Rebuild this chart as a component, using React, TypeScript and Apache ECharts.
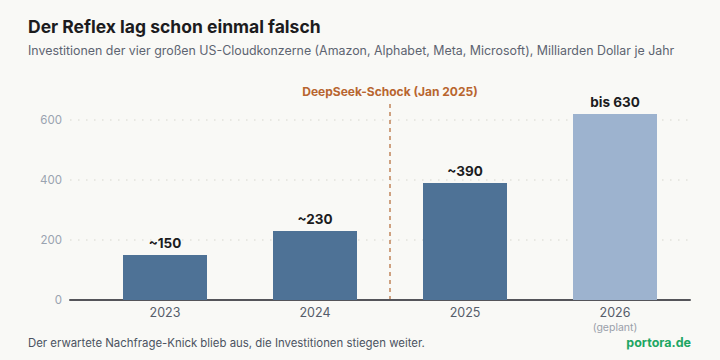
import React, { useEffect, useRef } from "react";
import * as echarts from "echarts";

const categories = ["2023", "2024", "2025", "2026"];
const values = [150, 230, 390, 620];
const valueLabels = ["~150", "~230", "~390", "bis 630"];
const barColors = ["#4e7296", "#4e7296", "#4e7296", "#9db3cf"];
const yTicks = [0, 200, 400, 600];

const FONT = "Inter, 'Noto Sans', sans-serif";

export default function App() {
  const ref = useRef<HTMLDivElement>(null);
  useEffect(() => {
    if (!ref.current) return;
    const chart = echarts.init(ref.current, undefined, { renderer: "svg" });
    chart.setOption({
      animation: false,
      backgroundColor: "#f9f9f6",
      textStyle: { fontFamily: FONT },
      title: [
        {
          text: "Der Reflex lag schon einmal falsch",
          left: 23,
          top: 12,
          textStyle: { fontFamily: FONT, fontSize: 17.5, fontWeight: "bold", color: "#1c1c1e" },
        },
        {
          text: "Investitionen der vier großen US-Cloudkonzerne (Amazon, Alphabet, Meta, Microsoft), Milliarden Dollar je Jahr",
          left: 23,
          top: 39,
          textStyle: { fontFamily: FONT, fontSize: 12.4, fontWeight: "normal", color: "#5d6471" },
        },
        {
          text: "Der erwartete Nachfrage-Knick blieb aus, die Investitionen stiegen weiter.",
          left: 23,
          top: 332,
          textStyle: { fontFamily: FONT, fontSize: 11.4, fontWeight: "normal", color: "#4b5361" },
        },
        {
          text: "portora.de",
          right: 24,
          top: 331,
          textStyle: { fontFamily: FONT, fontSize: 12.5, fontWeight: "bold", color: "#1ea663" },
        },
      ],
      grid: [
        { left: 70, right: 30, top: 90, bottom: 60 },
        { left: 90, right: 30, top: 90, bottom: 60 },
      ],
      xAxis: [
        {
          type: "value",
          gridIndex: 0,
          min: 0,
          max: 1,
          axisLine: { show: true, onZero: false, lineStyle: { color: "#55555a", width: 2 } },
          axisTick: { show: false },
          axisLabel: { show: false },
          splitLine: { show: false },
        },
        {
          type: "category",
          gridIndex: 1,
          data: categories,
          axisLine: { show: false },
          axisTick: { show: false },
          axisLabel: {
            margin: 5,
            formatter: (v: string) => (v === "2026" ? "{a|" + v + "}\n{b|(geplant)}" : "{a|" + v + "}"),
            rich: {
              a: { fontFamily: FONT, fontSize: 12.5, color: "#555d6a", lineHeight: 15 },
              b: { fontFamily: FONT, fontSize: 10.5, color: "#9aa0aa", lineHeight: 15 },
            },
          },
        },
      ],
      yAxis: [
        {
          type: "value",
          gridIndex: 0,
          min: 0,
          max: 700,
          interval: 200,
          axisLine: { show: false },
          axisTick: { show: false },
          axisLabel: {
            color: "#9aa3b0",
            fontSize: 11.5,
            margin: 8,
            showMaxLabel: false,
            formatter: (v: number) => (yTicks.includes(v) ? String(v) : ""),
          },
          splitLine: {
            show: true,
            showMinLine: false,
            showMaxLine: false,
            lineStyle: { color: "#e2e2dc", width: 1.5, type: [1.5, 6.5] },
          },
        },
        {
          type: "value",
          gridIndex: 1,
          min: 0,
          max: 700,
          show: false,
          splitLine: { show: false },
        },
      ],
      series: [
        {
          type: "bar",
          xAxisIndex: 1,
          yAxisIndex: 1,
          barWidth: 84,
          data: values.map((v, i) => ({ value: v, itemStyle: { color: barColors[i] } })),
          label: {
            show: true,
            position: "top",
            distance: 5,
            fontFamily: FONT,
            fontSize: 13.5,
            fontWeight: "bold",
            color: "#1c1c1e",
            formatter: (p: any) => valueLabels[p.dataIndex],
          },
        },
      ],
      graphic: [
        {
          type: "line",
          shape: { x1: 390, y1: 104, x2: 390, y2: 299 },
          style: { stroke: "#c0845a", lineWidth: 1.5, lineDash: [4, 4] },
          z: 10,
        },
        {
          type: "text",
          x: 390,
          y: 91,
          style: {
            text: "DeepSeek-Schock (Jan 2025)",
            fill: "#b8652f",
            font: "bold 12px " + FONT,
            textAlign: "center",
            textVerticalAlign: "middle",
          },
        },
      ],
    });
    return () => chart.dispose();
  }, []);
  return <div ref={ref} style={{ position: "absolute", left: 0, top: 0, width: 720, height: 360 }} />;
}
